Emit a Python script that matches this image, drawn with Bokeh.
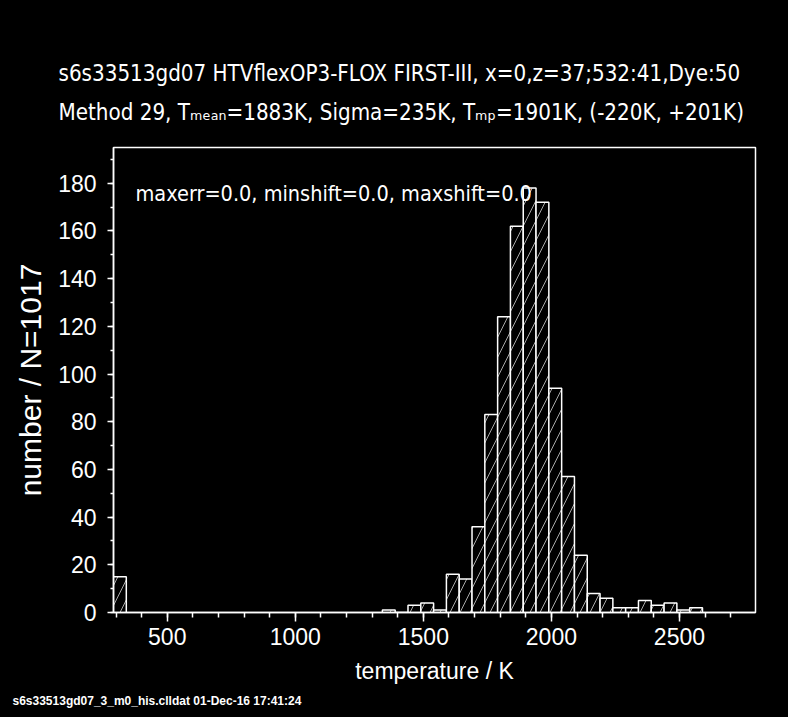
from bokeh.plotting import figure
from bokeh.models import Range1d, FixedTicker, Label, Title, ColumnDataSource
from bokeh.embed import file_html
from bokeh.resources import INLINE

# ---- data ----
bin_width = 50
bin_start = [290, 1340, 1390, 1440, 1490, 1540, 1590, 1640, 1690, 1740, 1790,
             1840, 1890, 1940, 1990, 2040, 2090, 2140, 2190, 2240, 2290, 2340,
             2390, 2440, 2490, 2540]
counts = [15, 1, 0, 3, 4, 1, 16, 14, 36, 83, 124,
          162, 178, 172, 94, 57, 24, 8, 6, 2, 2, 5,
          3, 4, 1, 2]
x_ticks = [500, 1000, 1500, 2000, 2500]
x_minor = list(range(300, 2800, 100))
y_ticks = [0, 20, 40, 60, 80, 100, 120, 140, 160, 180]
y_minor = list(range(0, 200, 10))

title1 = "s6s33513gd07   HTVflexOP3-FLOX FIRST-III, x=0,z=37;532:41,Dye:50"
title2 = "Method 29, T\u2098\u2091\u2090\u2099=1883K, Sigma=235K, T\u2098\u209a=1901K, (-220K, +201K)"
inner_text = "maxerr=0.0, minshift=0.0, maxshift=0.0"
footer = "s6s33513gd07_3_m0_his.clldat 01-Dec-16 17:41:24"
x_label = "temperature / K"
y_label = "number / N=1017"

COND = "DejaVu Sans Condensed, Liberation Sans Narrow, sans-serif"
SANS = "Liberation Sans"

src = ColumnDataSource(dict(
    left=bin_start,
    right=[b + bin_width for b in bin_start],
    top=counts,
    bottom=[0] * len(counts),
))

W, H = 788, 717
p = figure(width=W, height=H, output_backend="svg", toolbar_location=None, title=None,
           x_range=Range1d(290, 2797), y_range=Range1d(0, 195),
           min_border_left=113, min_border_right=33,
           min_border_top=147, min_border_bottom=105)
p.background_fill_color = "black"
p.border_fill_color = "black"
p.outline_line_color = "white"
p.outline_line_width = 1.5
p.xgrid.visible = False
p.ygrid.visible = False

p.quad(left="left", right="right", top="top", bottom="bottom", source=src,
       fill_color="black", line_color="white", line_width=1.5,
       hatch_pattern="/", hatch_color="#a8a8a8", hatch_weight=1, hatch_scale=20)

for ax in (p.xaxis[0], p.yaxis[0]):
    ax.axis_line_color = "white"
    ax.axis_line_width = 1.5
    ax.major_tick_line_color = "white"
    ax.minor_tick_line_color = "white"
    ax.major_tick_line_width = 1.5
    ax.minor_tick_line_width = 1.5
    ax.major_tick_in = 0
    ax.minor_tick_in = 0
    ax.major_label_text_color = "white"
    ax.major_label_text_font = SANS
    ax.major_label_text_font_size = "23px"
    ax.axis_label_text_color = "white"
    ax.axis_label_text_font = SANS
    ax.axis_label_text_font_style = "normal"

p.xaxis.ticker = FixedTicker(ticks=x_ticks, minor_ticks=x_minor)
p.yaxis.ticker = FixedTicker(ticks=y_ticks, minor_ticks=y_minor)
p.xaxis.major_tick_out = 9
p.xaxis.minor_tick_out = 5
p.yaxis.major_tick_out = 6
p.yaxis.minor_tick_out = 3
p.xaxis.major_label_standoff = 6
p.yaxis.major_label_standoff = 11
p.xaxis.axis_label = x_label
p.yaxis.axis_label = y_label
p.xaxis.axis_label_text_font_size = "23px"
p.yaxis.axis_label_text_font_size = "30px"
p.xaxis.axis_label_standoff = 10
p.yaxis.axis_label_standoff = 8

# two-line heading as one title
p.add_layout(Title(text=title1 + "\n" + title2, align="left", offset=-55, standoff=45,
                   text_color="white", text_font=COND, text_font_size="22.2px",
                   text_font_style="normal", text_line_height=1.5), "above")
p.add_layout(Title(text=footer, align="left", offset=-101, standoff=11,
                   text_color="white", text_font=SANS, text_font_size="12px",
                   text_font_style="bold"), "below")

# inside the frame: screen units from the frame's bottom-left corner
p.add_layout(Label(x=22, y=419, x_units="screen", y_units="screen", text=inner_text,
                   text_color="white", text_font=COND, text_font_size="21.5px",
                   text_baseline="alphabetic"))

template = """{% block preamble %}<style>html, body { background: #000; }</style>{% endblock %}"""
open("out.html", "w").write(file_html(p, INLINE, template=template))
